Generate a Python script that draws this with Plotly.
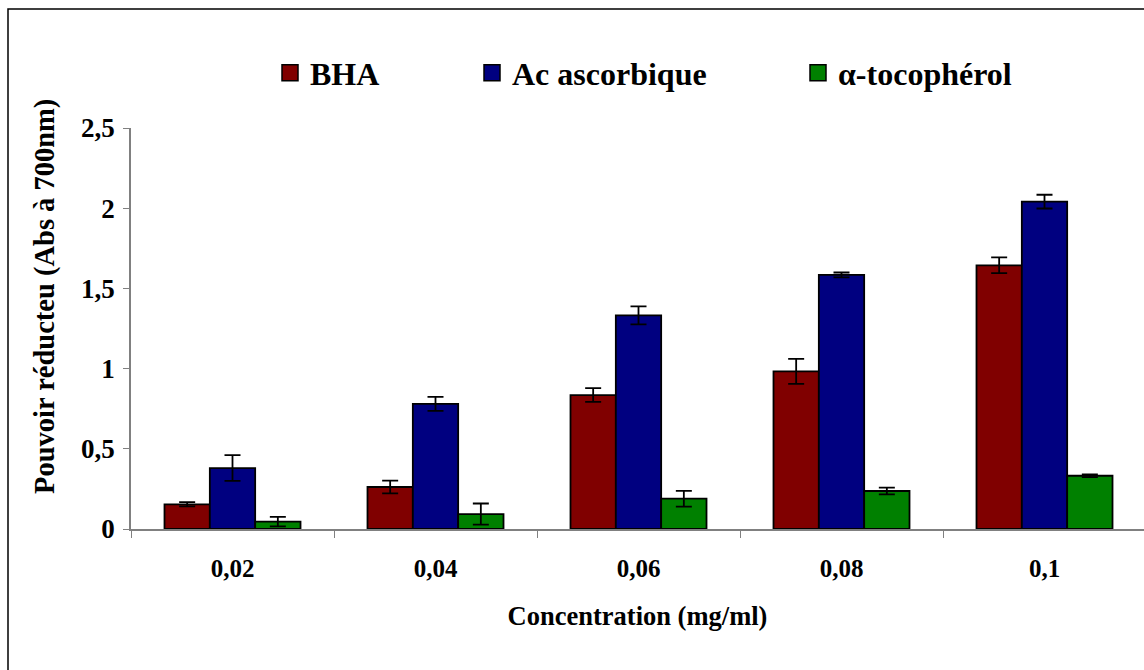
import plotly.graph_objects as go

categories = ["0,02", "0,04", "0,06", "0,08", "0,1"]
bha = [0.154, 0.262, 0.835, 0.983, 1.644]
bha_err = [0.013, 0.040, 0.043, 0.078, 0.049]
asc = [0.380, 0.780, 1.332, 1.584, 2.041]
asc_err = [0.080, 0.044, 0.056, 0.015, 0.043]
toc = [0.046, 0.093, 0.189, 0.237, 0.332]
toc_err = [0.030, 0.066, 0.049, 0.021, 0.008]
series_names = ["BHA", "Ac ascorbique", "α-tocophérol"]
colors = ["#800000", "#000080", "#008000"]
y_title = "Pouvoir réducteu (Abs à 700nm)"
x_title = "Concentration (mg/ml)"

FONT = "Liberation Serif"
W, H = 1144, 670
L, R, T, B = 131, 0, 128, 141
pw = W - L - R
ph = H - T - B

fig = go.Figure()
for name, vals, errs, col in zip(series_names, [bha, asc, toc], [bha_err, asc_err, toc_err], colors):
    fig.add_trace(go.Bar(
        x=categories, y=vals, name=name, showlegend=False,
        marker=dict(color=col, line=dict(color="black", width=1.8)),
        error_y=dict(type="data", array=errs, visible=True, color="black", thickness=1.8, width=8),
    ))

legend_x_px = [270, 472, 798]
legend_names = ["legend", "legend2", "legend3"]
for name, col, lg in zip(series_names, colors, legend_names):
    fig.add_trace(go.Scatter(
        x=[None], y=[None], mode="markers", name="<b>%s</b>" % name, legend=lg, showlegend=True,
        marker=dict(symbol="square", size=20, color=col, line=dict(color="black", width=1.5)),
    ))

legend_common = dict(orientation="h", yanchor="middle", y=1 + (T - 73) / ph, xanchor="left",
                     bgcolor="rgba(0,0,0,0)", borderwidth=0,
                     font=dict(family=FONT, size=32, color="black"))
layout_legends = {}
for lg, lx in zip(legend_names, legend_x_px):
    d = dict(legend_common)
    d["x"] = (lx - L) / pw
    layout_legends[lg] = d

fig.update_layout(
    width=W, height=H,
    margin=dict(l=L, r=R, t=T, b=B, pad=0),
    paper_bgcolor="white", plot_bgcolor="white",
    barmode="group", bargap=0.33, bargroupgap=0,
    showlegend=True,
    font=dict(family=FONT, color="black"),
    xaxis=dict(
        type="category", range=[-0.5, 4.5 - 2 / 203], tickson="boundaries",
        ticks="outside", ticklen=7, tickcolor="#808080", tickwidth=1,
        showline=True, linecolor="#808080", linewidth=1.5, showgrid=False,
        tickfont=dict(family=FONT, size=25, color="black"),
        ticklabelstandoff=16,
        title=dict(text="<b>%s</b>" % x_title, font=dict(family=FONT, size=26.5, color="black"), standoff=26),
    ),
    yaxis=dict(
        range=[0, 2.5], tickvals=[0, 0.5, 1, 1.5, 2, 2.5],
        ticktext=["<b>0</b>", "<b>0,5</b>", "<b>1</b>", "<b>1,5</b>", "<b>2</b>", "<b>2,5</b>"],
        ticks="outside", ticklen=6, tickcolor="#808080", tickwidth=1,
        showline=True, linecolor="#808080", linewidth=1.5, showgrid=False, zeroline=False,
        tickfont=dict(family=FONT, size=27, color="black"),
        ticklabelstandoff=3,
    ),
    **layout_legends,
)
fig.update_xaxes(ticktext=["<b>%s</b>" % c for c in categories], tickvals=categories)

fig.add_annotation(text="<b>%s</b>" % y_title, textangle=-90, showarrow=False,
                   xref="paper", yref="paper", x=(45 - L) / pw, y=(T + ph - 297) / ph,
                   xanchor="center", yanchor="middle",
                   font=dict(family=FONT, size=28.5, color="black"))

fig.add_shape(type="rect", xref="paper", yref="paper",
              x0=(8 - L) / pw, x1=(W + 10 - L) / pw,
              y0=-(H + 10 - (T + ph)) / ph, y1=1 + (T - 9) / ph,
              line=dict(color="black", width=1.5), fillcolor="rgba(0,0,0,0)", layer="below")

fig.write_html("out.html")
